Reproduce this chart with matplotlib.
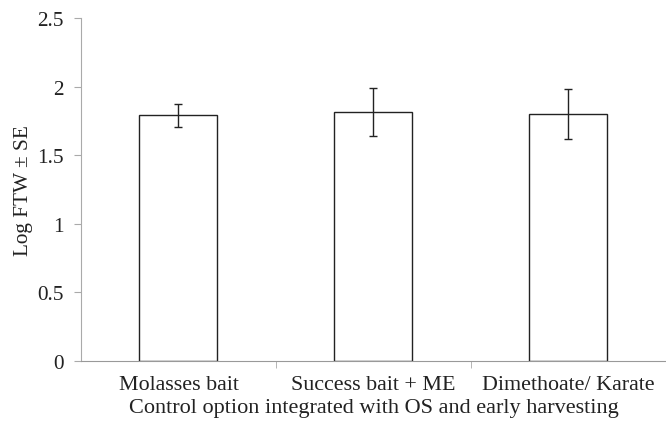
import matplotlib.pyplot as plt
import numpy as np

# Dati
categories = ['Molasses bait', 'Success bait + ME', 'Dimethoate/ Karate']
log_ftw = [1.79, 1.815, 1.80]
se = [0.083, 0.173, 0.18]
yticks = [0, 0.5, 1, 1.5, 2, 2.5]
ytick_labels = ['0', '0.5', '1', '1.5', '2', '2.5']

plt.rcParams['font.family'] = ['Liberation Serif', 'DejaVu Serif']

fig = plt.figure(figsize=(6.66, 4.31), dpi=100)
ax = fig.add_axes([0.1216, 0.160, 0.8784, 0.796])

x = np.arange(len(categories))
ax.bar(x, log_ftw, width=0.40, color='white', edgecolor='#222222', linewidth=1.0, zorder=2)
ax.errorbar(x, log_ftw, yerr=se, fmt='none', ecolor='#222222', elinewidth=1.0,
            capsize=3, capthick=1.0, zorder=3)

ax.set_xlim(-0.5, 2.5)
ax.set_ylim(0, 2.5)
ax.set_yticks(yticks)
ax.set_yticklabels(ytick_labels, fontsize=15.3, color='#222222')

# etichette delle categorie senza tacche, tacche ai confini
ax.set_xticks(x)
ax.set_xticklabels(categories, fontsize=15.8, color='#222222')
ax.tick_params(axis='x', length=0, pad=10)
ax.set_xticks([0.5, 1.5], minor=True)
ax.tick_params(axis='x', which='minor', length=5, color='#aaaaaa', direction='out')
ax.tick_params(axis='y', length=5, color='#aaaaaa', direction='out', pad=7.5)

for side in ['top', 'right']:
    ax.spines[side].set_visible(False)
ax.spines['left'].set_color('#aaaaaa')
ax.spines['bottom'].set_color('#999999')

ax.set_ylabel('Log FTW ± SE', fontsize=15.3, color='#222222', labelpad=3)
ax.set_xlabel('Control option integrated with OS and early harvesting', fontsize=16,
              color='#222222', labelpad=3)

fig.savefig('out.png', dpi=100)
